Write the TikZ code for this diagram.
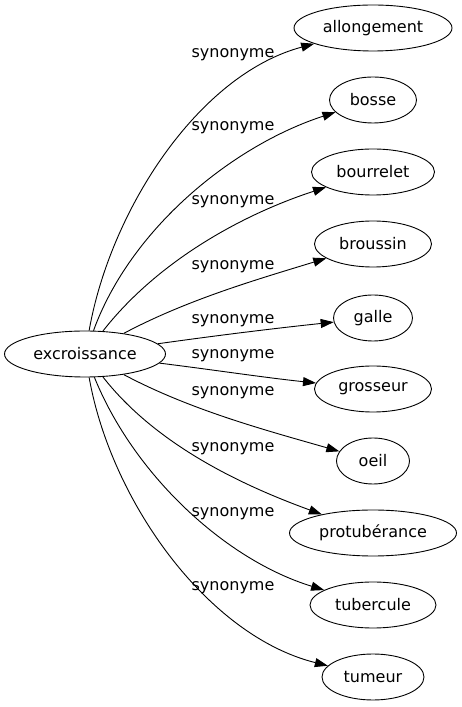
\documentclass[tikz,border=0pt]{standalone}
\usepackage{fontspec}
\setmainfont{DejaVu Sans}
\usetikzlibrary{arrows.meta,shapes.geometric}

\begin{document}
\begin{tikzpicture}[x=1pt, y=1pt, font=\fontsize{16}{19}\selectfont,
  word/.style={draw, ellipse, line width=0.9pt, minimum height=46pt, inner sep=0pt},
  link/.style={line width=0.9pt, looseness=0.85, -{Triangle[length=13pt,width=9pt]}},
  tag/.style={inner sep=0pt}]
\useasboundingbox (0,0) rectangle (462,707);
\node[word, minimum width=161pt] (excroissance) at (85,353) {excroissance};
\foreach \n/\t/\y/\w/\o/\i/\ly in {allongement/allongement/679/158/80/195/652,
    bosse/bosse/607/87/70/198/579,
    bourrelet/bourrelet/535/123/52/198/505,
    broussin/broussin/463/117/28/197/440,
    galle/galle/389/79/8/186/386,
    grosseur/grosseur/318/117/-7/174/351,
    oeil/oeil/246/73/-28/164/314,
    protuberance/protubérance/174/167/-52/160/258,
    tubercule/tubercule/102/126/-68/163/193,
    tumeur/tumeur/30/102/-80/166/119} {
  \node[word, minimum width=\w pt] (\n) at (373,\y) {\t};
  \node[tag] (lbl-\n) at (233,\ly) {synonyme};
  \draw[link] (excroissance) to[out=\o, in=\i] (\n); }
\end{tikzpicture}
\end{document}
